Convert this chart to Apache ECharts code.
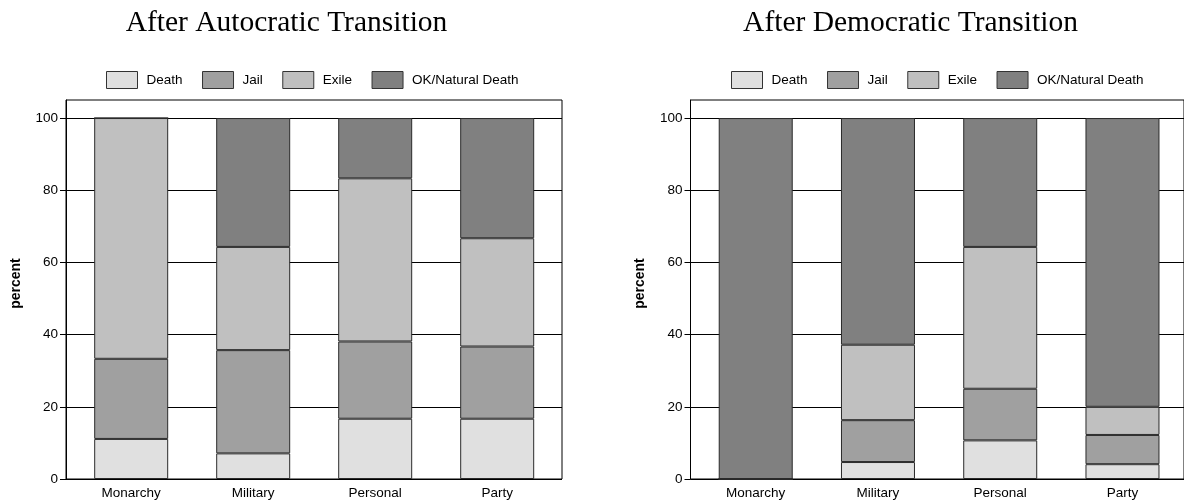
<!DOCTYPE html>
<html>
<head>
<meta charset="utf-8">
<script src="https://cdn.jsdelivr.net/npm/echarts@6/dist/echarts.min.js"></script>
<style>
html,body{margin:0;padding:0;background:#fff;}
#chart{width:1184px;height:504px;}
</style>
</head>
<body>
<div id="chart"></div>
<script>
const categories = ['Monarchy', 'Military', 'Personal', 'Party'];
const seriesNames = ['Death', 'Jail', 'Exile', 'OK/Natural Death'];
const yTicks = [0, 20, 40, 60, 80, 100];

// After Autocratic Transition (percent)
const autoDeath = [11.1, 7.1, 16.7, 16.7];
const autoJail  = [22.2, 28.6, 21.4, 20.0];
const autoExile = [66.7, 28.6, 45.2, 30.0];
const autoOK    = [0.0, 35.7, 16.7, 33.3];

// After Democratic Transition (percent)
const demoDeath = [0.0, 4.7, 10.7, 4.1];
const demoJail  = [0.0, 11.6, 14.3, 8.1];
const demoExile = [0.0, 20.9, 39.3, 7.8];
const demoOK    = [100.0, 62.8, 35.7, 80.0];

const titles = ['After Autocratic Transition', 'After Democratic Transition'];

const colors = ['#e0e0e0', '#a0a0a0', '#c0c0c0', '#808080'];
const YMAX = 105;
const TOP = 100, H = 379;

function frameY(idx) {
  return {
    type: 'value', gridIndex: idx, min: 0, max: YMAX,
    name: 'percent', nameLocation: 'middle', nameGap: 43,
    nameTextStyle: {fontFamily: 'Liberation Sans', fontSize: 14, fontWeight: 'bold', color: '#000', padding: [0, 0, 0, 12]},
    axisLine: {show: true, lineStyle: {color: '#000', width: 1}},
    axisTick: {show: true, length: 6, lineStyle: {color: '#000'}, customValues: yTicks},
    axisLabel: {fontFamily: 'Liberation Sans', fontSize: 13.5, color: '#000', margin: 8, customValues: yTicks},
    splitLine: {show: true, lineStyle: {color: '#000', width: 1}}
  };
}
function innerY(idx) {
  return {type: 'value', gridIndex: idx, min: 0, max: YMAX, show: false, splitLine: {show: false}};
}
function frameX(idx) {
  return {type: 'value', gridIndex: idx, min: 0, max: 1, show: false, splitLine: {show: false}};
}
function innerX(idx) {
  return {
    type: 'category', gridIndex: idx, data: categories,
    axisLine: {show: false}, axisTick: {show: false},
    axisLabel: {fontFamily: 'Liberation Sans', fontSize: 13.5, color: '#000', margin: 7},
    splitLine: {show: false}
  };
}
function bars(axisIdx, stackId, values) {
  return values.map((vals, i) => ({
    name: seriesNames[i], type: 'bar', stack: stackId,
    xAxisIndex: axisIdx, yAxisIndex: axisIdx,
    barWidth: 74, data: vals,
    itemStyle: {color: colors[i], borderColor: '#2a2a2a', borderWidth: 1},
    emphasis: {disabled: true}, animation: false
  }));
}
function legend(left) {
  return {
    left: left, top: 71, padding: 0, itemWidth: 31, itemHeight: 17, itemGap: 19.5,
    icon: 'rect', data: seriesNames,
    itemStyle: {borderColor: '#333', borderWidth: 1},
    textStyle: {fontFamily: 'Liberation Sans', fontSize: 13.5, color: '#000', padding: [0, 0, 0, 4]}
  };
}
function title(text, cx) {
  return {text: text, left: cx, top: 8, padding: 0, textAlign: 'center',
    textStyle: {fontFamily: 'Liberation Serif', fontSize: 29.5, fontWeight: 'normal', color: '#000'}};
}

const chart = echarts.init(document.getElementById('chart'), null, {renderer: 'canvas'});
chart.setOption({
  backgroundColor: '#fff',
  animation: false,
  title: [title(titles[0], 286.5), title(titles[1], 910.5)],
  legend: [legend(106), legend(731)],
  grid: [
    {left: 66, top: TOP, width: 496, height: H, show: true, borderColor: '#000', borderWidth: 1, backgroundColor: 'transparent'},
    {left: 70.2, top: TOP, width: 488, height: H},
    {left: 690.5, top: TOP, width: 496, height: H, show: true, borderColor: '#000', borderWidth: 1, backgroundColor: 'transparent'},
    {left: 694.6, top: TOP, width: 489, height: H}
  ],
  xAxis: [frameX(0), innerX(1), frameX(2), innerX(3)],
  yAxis: [frameY(0), innerY(1), frameY(2), innerY(3)],
  series: [
    ...bars(1, 'auto', [autoDeath, autoJail, autoExile, autoOK]),
    ...bars(3, 'demo', [demoDeath, demoJail, demoExile, demoOK])
  ]
});
</script>
</body>
</html>
